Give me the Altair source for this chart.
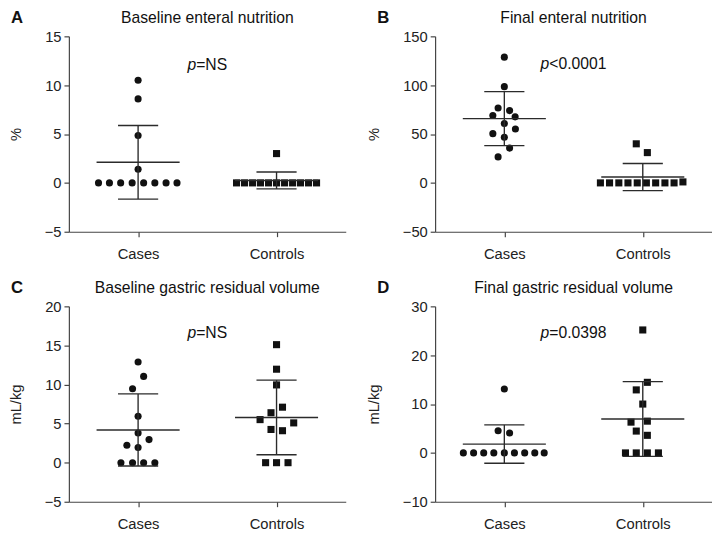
import altair as alt
import pandas as pd

groups = ["Cases", "Controls"]

# ---- Panel A: Baseline enteral nutrition (%)
a_cases = [10.5, 8.6, 4.85, 1.4, 0, 0, 0, 0, 0, 0, 0, 0]
a_cases_jit = [0, 0, 0, 0, -0.286, -0.207, -0.126, -0.043, 0.040, 0.121, 0.202, 0.281]
a_ctrl = [3.0, 0, 0, 0, 0, 0, 0, 0, 0, 0, 0, 0]
a_ctrl_jit = [0, -0.289, -0.231, -0.173, -0.116, -0.058, 0, 0.058, 0.116, 0.173, 0.231, 0.289]

# ---- Panel B: Final enteral nutrition (%)
b_cases = [128.7, 98.5, 76.6, 74.0, 69.0, 67.6, 60.8, 55.1, 50.4, 46.7, 35.6, 26.6]
b_cases_jit = [0, 0, -0.045, 0.038, -0.083, 0.078, 0, 0.080, -0.083, 0, 0.038, -0.045]
b_ctrl = [40.0, 31.0, 1.0, 0, 0, 0, 0, 0, 0, 0, 0, 0]
b_ctrl_jit = [-0.047, 0.033, 0.290, -0.306, -0.240, -0.173, -0.107, -0.040, 0.026, 0.093, 0.160, 0.226]

# ---- Panel C: Baseline gastric residual volume (mL/kg)
c_cases = [12.88, 11.04, 9.45, 5.93, 3.79, 2.95, 2.24, 1.95, 0, 0, 0, 0]
c_cases_jit = [0, 0.040, -0.040, 0, 0, 0.079, -0.081, 0, -0.124, -0.040, 0.040, 0.121]
c_ctrl = [15.1, 11.96, 9.95, 7.1, 6.39, 5.51, 5.09, 4.25, 4.09, 0, 0, 0]
c_ctrl_jit = [0, 0, 0, 0.043, -0.040, -0.119, 0.124, -0.040, 0.043, -0.079, 0, 0.083]

# ---- Panel D: Final gastric residual volume (mL/kg)
d_cases = [13.1, 4.54, 4.07, 0, 0, 0, 0, 0, 0, 0, 0, 0]
d_cases_jit = [0, -0.045, 0.038, -0.296, -0.222, -0.149, -0.076, 0, 0.073, 0.147, 0.220, 0.288]
d_ctrl = [25.17, 14.45, 12.9, 10.0, 6.3, 6.5, 4.47, 3.6, 0, 0, 0, 0]
d_ctrl_jit = [0, 0.033, -0.047, 0, -0.085, 0.033, -0.047, 0.033, -0.125, -0.047, 0.033, 0.113]

# ---- Texts
titles = ["Baseline enteral nutrition", "Final enteral nutrition",
          "Baseline gastric residual volume", "Final gastric residual volume"]
letters = ["A", "B", "C", "D"]
ytitles = ["%", "%", "mL/kg", "mL/kg"]
p_rest = ["=NS", "<0.0001", "=NS", "=0.0398"]
p_ypos = [12.1, 122, 16.6, 24.5]
ydomains = [[-5, 15], [-50, 150], [-5, 20], [-10, 30]]
yticks = [[-5, 0, 5, 10, 15], [-50, 0, 50, 100, 150], [-5, 0, 5, 10, 15, 20], [-10, 0, 10, 20, 30]]

W, H = 282, 199
LINE = "#2b2b2b"
PT = "#111111"


def text_width(s, size):
    w = {"=": 0.584, "<": 0.584, "N": 0.722, "S": 0.667, ".": 0.278}
    return sum(w.get(ch, 0.556) for ch in s) * size


def panel(i, cases, cases_jit, ctrl, ctrl_jit):
    df = pd.DataFrame({
        "group": ["Cases"] * len(cases) + ["Controls"] * len(ctrl),
        "gi": [0] * len(cases) + [1] * len(ctrl),
        "value": cases + ctrl,
        "jit": cases_jit + ctrl_jit,
    })
    base = alt.Chart(df)
    xscale = alt.Scale(domain=[-0.5, 1.5], nice=False, zero=False)
    yscale = alt.Scale(domain=ydomains[i], nice=False, zero=False)
    xaxis = alt.Axis(values=[0, 1], labelExpr="datum.value == 0 ? 'Cases' : 'Controls'",
                     title=None, grid=False, labelPadding=10, labelOverlap=False)
    yaxis = alt.Axis(values=yticks[i], tickCount=len(yticks[i]), title=ytitles[i], grid=False,
                     titlePadding=21, labelOverlap=False)

    pts = base.transform_calculate(xp="datum.gi + datum.jit").mark_point(
        filled=True, size=52, opacity=1, color=PT
    ).encode(
        x=alt.X("xp:Q", scale=xscale, axis=xaxis),
        y=alt.Y("value:Q", scale=yscale, axis=yaxis),
        shape=alt.Shape("group:N", scale=alt.Scale(domain=groups, range=["circle", "square"]), legend=None),
    )

    stats = base.transform_aggregate(
        m="mean(value)", s="stdev(value)", groupby=["gi"]
    ).transform_calculate(
        lo="datum.m - datum.s", hi="datum.m + datum.s",
        mx1="datum.gi - 0.3", mx2="datum.gi + 0.3",
        cx1="datum.gi - 0.145", cx2="datum.gi + 0.145",
    )
    rk = dict(color=LINE, strokeWidth=1.4)
    mean_rule = stats.mark_rule(**rk).encode(x=alt.X("mx1:Q", scale=xscale, axis=xaxis), x2="mx2:Q",
                                              y=alt.Y("m:Q", scale=yscale, axis=yaxis))
    vert = stats.mark_rule(**rk).encode(x=alt.X("gi:Q", scale=xscale, axis=xaxis),
                                         y=alt.Y("lo:Q", scale=yscale, axis=yaxis), y2="hi:Q")
    cap_hi = stats.mark_rule(**rk).encode(x=alt.X("cx1:Q", scale=xscale, axis=xaxis), x2="cx2:Q",
                                           y=alt.Y("hi:Q", scale=yscale, axis=yaxis))
    cap_lo = stats.mark_rule(**rk).encode(x=alt.X("cx1:Q", scale=xscale, axis=xaxis), x2="cx2:Q",
                                           y=alt.Y("lo:Q", scale=yscale, axis=yaxis))

    fs = 16
    total = text_width("p", fs) + text_width(p_rest[i], fs)
    dx = -total / 2 + text_width("p", fs)
    pdf = pd.DataFrame({"x": [0.5], "y": [p_ypos[i]], "p": ["p"], "rest": [p_rest[i]]})
    p1 = alt.Chart(pdf).mark_text(align="right", baseline="middle", fontStyle="italic",
                                  fontSize=fs, dx=dx, color="#111").encode(
        x=alt.X("x:Q", scale=xscale, axis=xaxis), y=alt.Y("y:Q", scale=yscale, axis=yaxis), text="p:N")
    p2 = alt.Chart(pdf).mark_text(align="left", baseline="middle",
                                  fontSize=fs, dx=dx, color="#111").encode(
        x=alt.X("x:Q", scale=xscale, axis=xaxis), y=alt.Y("y:Q", scale=yscale, axis=yaxis), text="rest:N")

    lab = pd.DataFrame({"t": [letters[i]], "title": [titles[i]]})
    let = alt.Chart(lab).mark_text(
        align="left", baseline="alphabetic", fontWeight="bold", fontSize=17, color="#111"
    ).encode(x=alt.value(-59), y=alt.value(-14), text="t:N")
    ttl = alt.Chart(lab).mark_text(
        align="center", baseline="alphabetic", fontSize=16, color="#111"
    ).encode(x=alt.value(W / 2), y=alt.value(-14), text="title:N")

    return alt.layer(pts, mean_rule, vert, cap_hi, cap_lo, p1, p2, let, ttl).properties(
        width=W, height=H,
    )


A = panel(0, a_cases, a_cases_jit, a_ctrl, a_ctrl_jit)
B = panel(1, b_cases, b_cases_jit, b_ctrl, b_ctrl_jit)
C = panel(2, c_cases, c_cases_jit, c_ctrl, c_ctrl_jit)
D = panel(3, d_cases, d_cases_jit, d_ctrl, d_ctrl_jit)

chart = alt.vconcat(
    alt.hconcat(A, B, spacing=21),
    alt.hconcat(C, D, spacing=21),
    spacing=18,
).properties(padding={"top": -4, "left": 0, "right": 0, "bottom": 0}).configure(
    font="Liberation Sans"
).configure_view(stroke=None).configure_axis(
    domainColor="#444", tickColor="#444", labelColor="#222", titleColor="#222",
    labelFontSize=15, titleFontSize=15, titleFontWeight="normal", tickSize=5,
    domainWidth=1.2, tickWidth=1.2, grid=False, labelPadding=3, labelOverlap=False,
)

chart.save("out.html", embed_options={"renderer": "svg", "actions": False})
